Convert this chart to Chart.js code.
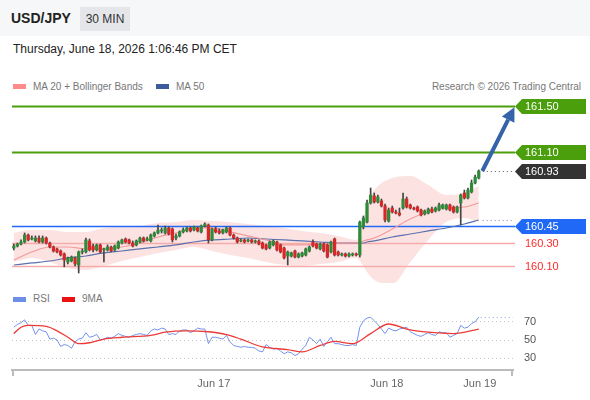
<!DOCTYPE html>
<html>
<head>
<meta charset="utf-8">
<script src="https://cdn.jsdelivr.net/npm/chart.js@4.4.1/dist/chart.umd.min.js"></script>
<style>
  body { margin: 0; width: 590px; height: 400px; position: relative; overflow: hidden; background: #fff;
         font-family: "Liberation Sans", Arial, sans-serif; }
  .head { position: absolute; left: 0; top: 0; width: 590px; height: 36px; background: #f6f7f8; }
  .pair { position: absolute; left: 11px; top: 10px; font-size: 14px; font-weight: bold; color: #222; }
  .tf { position: absolute; left: 80px; top: 7px; width: 50px; height: 24px; line-height: 24px; text-align: center;
        background: #e4e6e9; font-size: 12px; color: #333; }
  .date { position: absolute; left: 13px; top: 42px; font-size: 12px; color: #222; }
  .lg { position: absolute; font-size: 10px; color: #777; line-height: 12px; white-space: nowrap; }
  .sw { position: absolute; width: 13px; height: 5px; }
  #mainBox { position: absolute; left: 0; top: 95px; }
  #rsiBox { position: absolute; left: 0; top: 300px; }
</style>
</head>
<body>
<div class="head"></div>
<div class="pair">USD/JPY</div>
<div class="tf">30 MIN</div>
<div class="date">Thursday, June 18, 2026 1:06:46 PM CET</div>

<div class="sw" style="left:13px;top:84px;background:#ff8a8a"></div>
<div class="lg" style="left:33px;top:81px">MA 20 + Bollinger Bands</div>
<div class="sw" style="left:156px;top:84px;background:#3d5c9c"></div>
<div class="lg" style="left:176px;top:81px">MA 50</div>
<div class="lg" style="right:9px;top:81px">Research © 2026 Trading Central</div>

<div class="sw" style="left:13px;top:297px;background:#6e8fe8"></div>
<div class="lg" style="left:33px;top:293px">RSI</div>
<div class="sw" style="left:62px;top:297px;background:#ee1111"></div>
<div class="lg" style="left:82px;top:293px">9MA</div>

<div id="mainBox"><canvas id="mainChart" width="590" height="188"></canvas></div>
<div id="rsiBox"><canvas id="rsiChart" width="590" height="100"></canvas></div>

<script>
// ---------------------------------------------------------------
// Dữ liệu: nến 30 phút [open, high, low, close]
// ---------------------------------------------------------------
const candles = [
  [160.254,160.289,160.237,160.272],[160.272,160.298,160.263,160.289],[160.289,160.325,160.281,160.307],
  [160.307,160.386,160.298,160.368],[160.368,160.377,160.316,160.325],[160.333,160.360,160.325,160.342],
  [160.316,160.360,160.307,160.342],[160.342,160.360,160.298,160.307],[160.307,160.360,160.298,160.342],
  [160.342,160.351,160.289,160.298],[160.298,160.307,160.254,160.263],[160.263,160.272,160.219,160.228],
  [160.246,160.254,160.211,160.219],[160.228,160.237,160.184,160.193],[160.202,160.211,160.088,160.149],
  [160.132,160.175,160.114,160.167],[160.140,160.184,160.132,160.175],[160.167,160.175,160.096,160.114],
  [160.105,160.228,160.035,160.219],[160.219,160.246,160.202,160.228],[160.219,160.342,160.211,160.325],
  [160.316,160.333,160.228,160.237],[160.272,160.289,160.219,160.237],[160.237,160.289,160.228,160.281],
  [160.281,160.289,160.211,160.219],[160.237,160.254,160.132,160.246],[160.237,160.281,160.228,160.263],
  [160.263,160.272,160.219,160.228],[160.237,160.281,160.228,160.272],[160.254,160.316,160.246,160.307],
  [160.298,160.333,160.289,160.325],[160.333,160.342,160.298,160.307],[160.325,160.333,160.289,160.298],
  [160.298,160.316,160.263,160.272],[160.281,160.325,160.272,160.316],[160.307,160.351,160.298,160.342],
  [160.342,160.351,160.307,160.316],[160.325,160.351,160.316,160.333],[160.316,160.377,160.307,160.368],
  [160.360,160.395,160.351,160.386],[160.386,160.456,160.377,160.412],[160.404,160.430,160.386,160.412],
  [160.386,160.447,160.377,160.430],[160.430,160.439,160.368,160.377],[160.421,160.430,160.307,160.325],
  [160.342,160.377,160.325,160.360],[160.360,160.404,160.351,160.395],[160.395,160.430,160.386,160.412],
  [160.404,160.439,160.395,160.430],[160.430,160.439,160.395,160.404],[160.412,160.447,160.404,160.439],
  [160.430,160.439,160.395,160.404],[160.395,160.456,160.386,160.447],[160.447,160.474,160.439,160.465],
  [160.456,160.465,160.298,160.325],[160.325,160.430,160.316,160.421],[160.421,160.439,160.386,160.395],
  [160.404,160.421,160.377,160.386],[160.386,160.421,160.377,160.412],[160.395,160.439,160.386,160.430],
  [160.430,160.439,160.360,160.368],[160.368,160.377,160.333,160.342],[160.342,160.351,160.298,160.307],
  [160.316,160.333,160.307,160.325],[160.325,160.333,160.298,160.307],[160.316,160.333,160.307,160.325],
  [160.325,160.333,160.298,160.307],[160.307,160.325,160.298,160.316],[160.316,160.325,160.281,160.289],
  [160.298,160.307,160.246,160.254],[160.281,160.289,160.237,160.246],[160.254,160.316,160.246,160.307],
  [160.281,160.325,160.272,160.316],[160.307,160.316,160.228,160.237],[160.281,160.289,160.211,160.219],
  [160.254,160.263,160.158,160.167],[160.184,160.228,160.105,160.219],[160.184,160.219,160.175,160.211],
  [160.228,160.237,160.167,160.175],[160.175,160.211,160.167,160.202],[160.184,160.219,160.175,160.211],
  [160.193,160.254,160.184,160.246],[160.228,160.272,160.219,160.263],[160.307,160.325,160.263,160.272],
  [160.289,160.298,160.246,160.254],[160.246,160.298,160.237,160.289],[160.289,160.298,160.219,160.228],
  [160.281,160.289,160.167,160.175],[160.219,160.316,160.211,160.307],[160.333,160.342,160.184,160.193],
  [160.219,160.228,160.184,160.193],[160.193,160.211,160.184,160.202],[160.202,160.211,160.175,160.184],
  [160.184,160.211,160.175,160.202],[160.193,160.211,160.184,160.202],[160.202,160.211,160.184,160.193],
  [160.193,160.491,160.175,160.482],[160.439,160.535,160.421,160.518],[160.482,160.675,160.474,160.649],
  [160.649,160.781,160.640,160.719],[160.711,160.737,160.649,160.658],[160.658,160.719,160.649,160.702],
  [160.667,160.684,160.614,160.623],[160.623,160.640,160.482,160.500],[160.491,160.605,160.482,160.588],
  [160.605,160.623,160.561,160.570],[160.570,160.588,160.553,160.561],[160.561,160.605,160.535,160.544],
  [160.605,160.737,160.596,160.684],[160.684,160.702,160.605,160.614],[160.632,160.640,160.596,160.605],
  [160.605,160.614,160.588,160.596],[160.614,160.623,160.570,160.579],[160.588,160.596,160.535,160.544],
  [160.553,160.588,160.544,160.579],[160.561,160.605,160.553,160.596],[160.596,160.614,160.561,160.570],
  [160.579,160.614,160.570,160.605],[160.588,160.649,160.579,160.632],[160.605,160.640,160.596,160.632],
  [160.596,160.640,160.588,160.632],[160.632,160.640,160.579,160.588],[160.614,160.623,160.561,160.570],
  [160.570,160.623,160.561,160.614],[160.649,160.728,160.456,160.719],[160.737,160.763,160.684,160.693],
  [160.693,160.781,160.684,160.763],[160.746,160.851,160.737,160.825],[160.825,160.895,160.816,160.877],
  [160.868,160.939,160.860,160.930]
];

// Đường MA20, MA50 và dải Bollinger (đọc tại các nến mẫu)
const bandIdx = [0,5,10,15,20,25,30,35,40,45,50,55,60,65,70,75,80,85,90,95,97,98,100,105,110,115,120,125,129];
const bandUpper = [160.386,160.412,160.412,160.395,160.395,160.430,160.439,160.447,160.474,160.482,160.500,160.491,160.482,160.465,160.447,
                   160.430,160.404,160.386,160.360,160.325,160.518,160.649,160.763,160.868,160.886,160.807,160.719,160.737,160.798];
const bandLower = [160.132,160.167,160.132,160.079,160.061,160.096,160.140,160.175,160.211,160.237,160.263,160.228,160.193,160.167,160.132,
                   160.105,160.096,160.114,160.132,160.167,160.096,160.044,159.974,159.939,160.132,160.325,160.482,160.518,160.482];
const ma20 = [160.149,160.219,160.263,160.263,160.246,160.246,160.263,160.298,160.351,160.386,160.430,160.430,160.395,160.360,160.325,
              160.281,160.281,160.289,160.298,160.298,160.316,160.325,160.342,160.421,160.509,160.570,160.605,160.614,160.649];
const ma50 = [160.105,160.123,160.140,160.167,160.184,160.211,160.228,160.246,160.263,160.281,160.307,160.325,160.333,160.342,160.333,
              160.325,160.316,160.307,160.298,160.298,160.298,160.307,160.316,160.351,160.377,160.404,160.430,160.465,160.500];

// Các mức kháng cự / hỗ trợ
const levels = [161.50, 161.10, 160.45, 160.30, 160.10];
const arrowFrom = [130, 160.93];
const arrowTo = [138.9, 161.49];

// RSI theo từng nến và đường 9MA (đọc tại các điểm mẫu)
const rsi = [
  64,67,69,72,66,66,56,62,60,59, 51,52,50,43,45,44,41,48,51,52,
  58,53,54,56,50,51,53,52,54,57, 55,54,53,55,56,57,56,55,60,62,
  61,63,62,56,57,56,60,61,61,58, 60,63,62,62,46,53,53,52,51,55,
  48,44,43,42,43,42,42,41,38,37, 45,42,40,41,38,35,37,36,33,35,
  40,44,53,50,46,51,43,48,53,46, 46,45,44,44,45,44,64,71,74,75,
  71,67,62,57,63,61,60,62,63,64, 59,57,55,54,56,58,56,55,59,58,
  58,53,55,57,66,63,64,68,70,75
];
const rsiMaIdx = [0,2,4,9,12,15,18,21,25,30,38,42,48,54,59,63,69,76,80,85,89,94,99,104,109,115,122,129];
const rsiMa = [57,64,66,65,60,53,46,47,51,53,55,58.5,60,59,56,51,42.5,39.5,37,44,48.5,46,57,67.5,62,58.5,57,62];
const rsiTicks = [30, 50, 70];

// Nhãn ngày trên trục thời gian
const dayTicks = [55.5, 103.5, 129.3];
const dayLabels = ['Jun 17', 'Jun 18', 'Jun 19'];

// ---------------------------------------------------------------
// Kiểu dáng
// ---------------------------------------------------------------
Chart.defaults.font.family = '"Liberation Sans", Arial, sans-serif';
const GREEN = '#2f8a3a', RED = '#d62828';
const levelLook = [
  { line: '#4c9f0c', width: 2, tag: '#4c9f0c' },
  { line: '#4c9f0c', width: 2, tag: '#4c9f0c' },
  { line: '#2068f6', width: 1.5, tag: '#2068f6' },
  { line: '#f6abab', width: 1.5, text: '#ff2a2a' },
  { line: '#f6abab', width: 1.5, text: '#ff2a2a' }
];
const X_MIN = -0.5, X_MAX = 138.5;
const last = candles.length - 1;
const pts = (idx, vals) => idx.map((x, k) => ({ x: x, y: vals[k] }));

function drawTag(ctx, x, y, fill, label) {
  ctx.fillStyle = fill;
  ctx.beginPath();
  ctx.moveTo(x, y);
  ctx.lineTo(x + 7, y - 7.5);
  ctx.lineTo(586, y - 7.5);
  ctx.lineTo(586, y + 7.5);
  ctx.lineTo(x + 7, y + 7.5);
  ctx.closePath();
  ctx.fill();
  ctx.fillStyle = '#fff';
  ctx.fillText(label, x + 10, y + 0.5);
}

// Vẽ các mức giá phía dưới nến
const levelPlugin = {
  id: 'levels',
  beforeDatasetsDraw(chart) {
    const { ctx, chartArea, scales: { y } } = chart;
    ctx.save();
    levels.forEach((lv, k) => {
      const py = Math.round(y.getPixelForValue(lv)) + 0.5;
      ctx.strokeStyle = levelLook[k].line;
      ctx.lineWidth = levelLook[k].width;
      ctx.beginPath();
      ctx.moveTo(chartArea.left, py);
      ctx.lineTo(chartArea.right + 2, py);
      ctx.stroke();
    });
    ctx.restore();
  },
  afterDraw(chart) {
    const { ctx, chartArea, scales: { x, y } } = chart;
    ctx.save();
    // đường chấm nối giá cuối và MA50 cuối
    ctx.setLineDash([1, 3]);
    ctx.lineWidth = 1;
    ctx.strokeStyle = '#555';
    const lastY = Math.round(y.getPixelForValue(candles[last][3])) + 0.5;
    ctx.beginPath(); ctx.moveTo(x.getPixelForValue(last) + 4, lastY); ctx.lineTo(chartArea.right, lastY); ctx.stroke();
    ctx.strokeStyle = '#7f8fbb';
    const maY = Math.round(y.getPixelForValue(ma50[ma50.length - 1])) + 0.5;
    ctx.beginPath(); ctx.moveTo(x.getPixelForValue(last) + 4, maY); ctx.lineTo(chartArea.right, maY); ctx.stroke();
    ctx.setLineDash([]);

    // mũi tên xu hướng
    const x1 = x.getPixelForValue(arrowFrom[0]), y1 = y.getPixelForValue(arrowFrom[1]);
    const x2 = x.getPixelForValue(arrowTo[0]), y2 = y.getPixelForValue(arrowTo[1]);
    const ang = Math.atan2(y2 - y1, x2 - x1);
    const head = 14, half = 7;
    const bx = x2 - head * Math.cos(ang), by = y2 - head * Math.sin(ang);
    ctx.strokeStyle = '#3463a9';
    ctx.fillStyle = '#3463a9';
    ctx.lineWidth = 4;
    ctx.beginPath(); ctx.moveTo(x1, y1); ctx.lineTo(bx, by); ctx.stroke();
    ctx.beginPath();
    ctx.moveTo(x2, y2);
    ctx.lineTo(bx + half * Math.sin(ang), by - half * Math.cos(ang));
    ctx.lineTo(bx - half * Math.sin(ang), by + half * Math.cos(ang));
    ctx.closePath(); ctx.fill();

    // nhãn giá bên phải
    ctx.font = '11px "Liberation Sans", Arial, sans-serif';
    ctx.textBaseline = 'middle';
    ctx.textAlign = 'left';
    const tx = chartArea.right + 2;
    levels.forEach((lv, k) => {
      const py = Math.round(y.getPixelForValue(lv)) + 0.5;
      if (levelLook[k].tag) {
        drawTag(ctx, tx, py, levelLook[k].tag, lv.toFixed(2));
      } else {
        ctx.fillStyle = levelLook[k].text;
        ctx.fillText(lv.toFixed(2), tx + 10, py + 0.5);
      }
    });
    drawTag(ctx, tx, lastY, '#333333', candles[last][3].toFixed(2));
    ctx.restore();
  }
};

new Chart(document.getElementById('mainChart'), {
  type: 'bar',
  data: {
    datasets: [
      {
        label: 'body', order: 0, grouped: false, barThickness: 2.6, minBarLength: 1,
        data: candles.map((c, i) => ({ x: i, y: [c[0], c[3]] })),
        backgroundColor: (ctx) => {
          const c = candles[ctx.dataIndex];
          return c && c[3] >= c[0] ? GREEN : RED;
        }
      },
      {
        label: 'wick', order: 1, grouped: false, barThickness: 1,
        data: candles.map((c, i) => ({ x: i, y: [c[2], c[1]] })),
        backgroundColor: '#444'
      },
      {
        type: 'line', label: 'MA 20', order: 2, data: pts(bandIdx, ma20),
        borderColor: '#f59a9a', borderWidth: 1.2, pointRadius: 0, cubicInterpolationMode: 'monotone'
      },
      {
        type: 'line', label: 'MA 50', order: 3, data: pts(bandIdx, ma50),
        borderColor: '#5a71ad', borderWidth: 1.2, pointRadius: 0, cubicInterpolationMode: 'monotone'
      },
      {
        type: 'line', label: 'upper', order: 4, data: pts(bandIdx, bandUpper),
        borderWidth: 0, borderColor: 'rgba(0,0,0,0)', pointRadius: 0, cubicInterpolationMode: 'monotone'
      },
      {
        type: 'line', label: 'lower', order: 5, data: pts(bandIdx, bandLower),
        borderWidth: 0, borderColor: 'rgba(0,0,0,0)', pointRadius: 0, cubicInterpolationMode: 'monotone',
        fill: '-1', backgroundColor: 'rgba(250,160,160,0.3)'
      }
    ]
  },
  options: {
    responsive: false, animation: false, events: [],
    layout: { padding: { left: 12, right: 77, top: 0, bottom: 0 } },
    plugins: { legend: { display: false }, tooltip: { enabled: false }, filler: { drawTime: 'beforeDatasetsDraw' } },
    scales: {
      x: { type: 'linear', min: X_MIN, max: X_MAX, offset: false, display: false },
      y: { min: 159.947, max: 161.597, display: false }
    }
  },
  plugins: [levelPlugin]
});

// ---------------------------------------------------------------
// Biểu đồ RSI
// ---------------------------------------------------------------
const rsiPlugin = {
  id: 'rsiExtras',
  afterDraw(chart) {
    const { ctx, chartArea, scales: { x, y } } = chart;
    ctx.save();
    ctx.setLineDash([1, 3]);
    ctx.strokeStyle = '#8aa0e0';
    ctx.lineWidth = 1;
    const ry = Math.round(y.getPixelForValue(rsi[rsi.length - 1])) + 0.5;
    ctx.beginPath(); ctx.moveTo(x.getPixelForValue(rsi.length - 1) + 2, ry); ctx.lineTo(chartArea.right, ry); ctx.stroke();
    ctx.setLineDash([]);
    // hai đầu trục thời gian
    ctx.strokeStyle = '#bbbbbb';
    ctx.lineWidth = 2;
    ctx.beginPath();
    ctx.moveTo(chartArea.left + 1, chartArea.bottom); ctx.lineTo(chartArea.left + 1, chartArea.bottom + 6);
    ctx.moveTo(chartArea.right - 1, chartArea.bottom); ctx.lineTo(chartArea.right - 1, chartArea.bottom + 6);
    ctx.stroke();
    ctx.restore();
  }
};

new Chart(document.getElementById('rsiChart'), {
  type: 'line',
  data: {
    datasets: [
      {
        label: 'RSI', order: 1, data: rsi.map((v, i) => ({ x: i, y: v })),
        borderColor: '#7393ea', borderWidth: 1, pointRadius: 0, tension: 0
      },
      {
        label: '9MA', order: 0, data: pts(rsiMaIdx, rsiMa),
        borderColor: '#ec3b36', borderWidth: 1.3, pointRadius: 0, cubicInterpolationMode: 'monotone'
      }
    ]
  },
  options: {
    responsive: false, animation: false, events: [],
    layout: { padding: { left: 12, right: 0, top: 10, bottom: 0 } },
    plugins: { legend: { display: false }, tooltip: { enabled: false } },
    scales: {
      x: {
        type: 'linear', min: X_MIN, max: X_MAX, offset: false,
        afterBuildTicks: (axis) => { axis.ticks = dayTicks.map(v => ({ value: v })); },
        afterFit: (axis) => { axis.height = 30; axis.paddingLeft = 0; axis.paddingRight = 0; },
        grid: { display: false, drawTicks: false },
        border: { display: true, color: '#bbbbbb', width: 2 },
        ticks: {
          autoSkip: false, maxRotation: 0, padding: 7, color: '#666', font: { size: 11 },
          callback: (v, i) => dayLabels[i]
        }
      },
      y: {
        position: 'right', min: 17.2, max: 82.8,
        afterBuildTicks: (axis) => { axis.ticks = rsiTicks.map(v => ({ value: v })); },
        afterFit: (axis) => { axis.width = 77; axis.paddingTop = 0; axis.paddingBottom = 0; },
        grid: { color: '#c4c4c4', lineWidth: 1, drawTicks: false },
        border: { display: false, dash: [1, 3] },
        ticks: { padding: 11, color: '#555', font: { size: 11 } }
      }
    }
  },
  plugins: [rsiPlugin]
});
</script>
</body>
</html>
